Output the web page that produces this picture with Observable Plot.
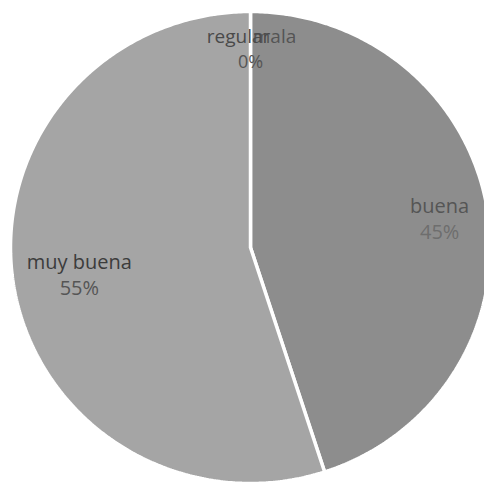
<!DOCTYPE html>
<html>
<head>
<meta charset="utf-8">
<script src="https://cdn.jsdelivr.net/npm/d3@7"></script>
<script src="https://cdn.jsdelivr.net/npm/@observablehq/plot@0.6"></script>
<style>
  html, body { margin: 0; padding: 0; background: #ffffff; }
  #chart { width: 484px; height: 484px; }
</style>
</head>
<body>
<div id="chart"></div>
<script>
// Data (order as drawn clockwise from 12 o'clock)
const categories = ["regular", "mala", "buena", "muy buena"];
const values = [0, 0, 45, 55];
const percentLabels = ["0%", "0%", "45%", "55%"];
const sliceColors = ["#9a9a9a", "#8f8f8f", "#8d8d8d", "#a5a5a5"];

const total = d3.sum(values);
let acc = 0;
const slices = categories.map((c, i) => {
  const a0 = acc / total * 2 * Math.PI;
  acc += values[i];
  const a1 = acc / total * 2 * Math.PI;
  return {category: c, value: values[i], pct: percentLabels[i], idx: i, a0, a1, mid: (a0 + a1) / 2};
});

// slice outlines in unit (data) coordinates
const outline = [];
for (const s of slices) {
  if (s.value <= 0) continue;
  outline.push({category: s.category, x: 0, y: 0});
  const n = Math.max(2, Math.ceil((s.a1 - s.a0) / 0.01));
  for (let k = 0; k <= n; k++) {
    const a = s.a0 + (s.a1 - s.a0) * k / n;
    outline.push({category: s.category, x: Math.sin(a), y: Math.cos(a)});
  }
  outline.push({category: s.category, x: 0, y: 0});
}

const labels = slices.map(s => {
  const r = s.value === 0 ? 0.84 : 0.76;
  return {...s, x: r * Math.sin(s.mid), y: r * Math.cos(s.mid)};
});
// zero-value labels collide at the same spot, overlapping as in the original
const zeroLabels = labels.filter(d => d.value === 0);
const otherLabels = labels.filter(d => d.value > 0);

const font = "'Open Sans', 'DejaVu Sans', sans-serif";

const chart = Plot.plot({
  width: 484,
  height: 484,
  margin: 0,
  x: {domain: [-1, 1], range: [10, 490], axis: null},
  y: {domain: [-1, 1], range: [483, 11], axis: null},
  color: {domain: categories, range: sliceColors},
  style: {background: "#ffffff", fontFamily: font},
  marks: [
    Plot.line(outline, {
      x: "x", y: "y", z: "category", fill: "category",
      stroke: "#ffffff", strokeWidth: 3.5, strokeLinejoin: "miter", curve: "linear"
    }),
    Plot.text(otherLabels, {
      x: "x", y: "y", text: "category", dy: -13, dx: 9,
      fill: d => d.category === "buena" ? "#555555" : "#3c3c3c",
      fontSize: 20, fontFamily: font
    }),
    Plot.text(otherLabels, {
      x: "x", y: "y", text: "pct", dy: 13, dx: 9,
      fill: d => d.category === "buena" ? "#6e6e6e" : "#555555",
      fontSize: 20, fontFamily: font
    }),
    Plot.text(zeroLabels.filter(d => d.idx === 0), {
      x: "x", y: "y", text: "category", dy: -12, dx: -12,
      fill: "#4a4a4a", fontSize: 19, fontFamily: font
    }),
    Plot.text(zeroLabels.filter(d => d.idx === 1), {
      x: "x", y: "y", text: "category", dy: -12, dx: 24,
      fill: "#4a4a4a", fillOpacity: 0.85, fontSize: 19, fontFamily: font
    }),
    Plot.text(zeroLabels.slice(0, 1), {
      x: "x", y: "y", text: "pct", dy: 13,
      fill: "#555555", fontSize: 18, fontFamily: font
    })
  ]
});

document.getElementById("chart").appendChild(chart);
</script>
</body>
</html>
